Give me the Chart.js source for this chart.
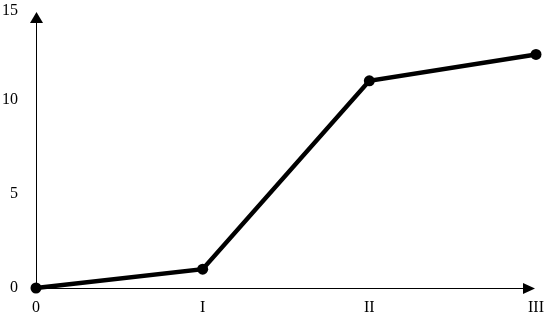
<!DOCTYPE html>
<html>
<head>
<meta charset="utf-8">
<script src="https://cdn.jsdelivr.net/npm/chart.js@4/dist/chart.umd.min.js"></script>
<style>
  html, body { margin: 0; padding: 0; background: #fff; }
  #wrap { width: 545px; height: 317px; }
</style>
</head>
<body>
<div id="wrap"><canvas id="c" width="545" height="317"></canvas></div>
<script>
const categories = ['0', 'I', 'II', 'III'];
const seriesValues = [0, 1, 11, 12.4];
const yTickValues = [0, 5, 10, 15];

const arrowAxes = {
  id: 'arrowAxes',
  afterDatasetsDraw(chart) {
    const ctx = chart.ctx;
    const x = chart.scales.x, y = chart.scales.y;
    const x0 = x.getPixelForValue(0);
    const y0 = y.getPixelForValue(0);
    const xEnd = chart.chartArea.right - 1;
    const yEnd = y.getPixelForValue(15) + 6.5;
    ctx.save();
    ctx.strokeStyle = '#000';
    ctx.fillStyle = '#000';
    ctx.lineWidth = 1;
    ctx.beginPath();
    ctx.moveTo(x0 + 0.5, y0);
    ctx.lineTo(x0 + 0.5, yEnd + 8);
    ctx.moveTo(x0, y0 + 0.5);
    ctx.lineTo(xEnd - 10, y0 + 0.5);
    ctx.stroke();
    ctx.beginPath();
    ctx.moveTo(x0 + 0.5, yEnd);
    ctx.lineTo(x0 - 6, yEnd + 11);
    ctx.lineTo(x0 + 7, yEnd + 11);
    ctx.closePath();
    ctx.fill();
    ctx.beginPath();
    ctx.moveTo(xEnd, y0 + 0.5);
    ctx.lineTo(xEnd - 12, y0 - 5);
    ctx.lineTo(xEnd - 12, y0 + 6);
    ctx.closePath();
    ctx.fill();
    ctx.restore();
  }
};

const fontFamily = '"Liberation Serif", "Times New Roman", serif';

new Chart(document.getElementById('c'), {
  type: 'line',
  data: {
    labels: categories,
    datasets: [{
      data: seriesValues,
      borderColor: '#000',
      backgroundColor: '#000',
      borderWidth: 4.5,
      pointRadius: 5.5,
      pointHoverRadius: 5.5,
      pointBackgroundColor: '#000',
      pointBorderWidth: 0,
      tension: 0,
      clip: false
    }]
  },
  options: {
    responsive: false,
    animation: false,
    devicePixelRatio: 1,
    layout: { padding: 0 },
    plugins: { legend: { display: false }, tooltip: { enabled: false } },
    scales: {
      x: {
        type: 'category',
        offset: false,
        grid: { display: false, drawTicks: false },
        border: { display: false },
        ticks: {
          color: '#000',
          padding: 10,
          maxRotation: 0,
          autoSkip: false,
          font: { family: fontFamily, size: 16 }
        },
        afterFit(scale) {
          scale.height = 29;
          scale.paddingLeft = 0;
          scale.paddingRight = 9;
        }
      },
      y: {
        min: 0,
        max: 15,
        afterBuildTicks(scale) {
          scale.ticks = yTickValues.map(v => ({ value: v }));
        },
        grid: { display: false, drawTicks: false },
        border: { display: false },
        ticks: {
          color: '#000',
          padding: 18,
          callback: (v) => (v === 15 ? ['', String(v)] : String(v)),
          font: (ctx) => ({
            family: fontFamily,
            size: 16,
            lineHeight: (ctx.tick && ctx.tick.value === 15) ? 0.625 : 1.2
          })
        },
        afterFit(scale) {
          scale.width = 36;
          scale.paddingTop = 3.5;
          scale.paddingBottom = 0;
        }
      }
    }
  },
  plugins: [arrowAxes]
});
</script>
</body>
</html>
